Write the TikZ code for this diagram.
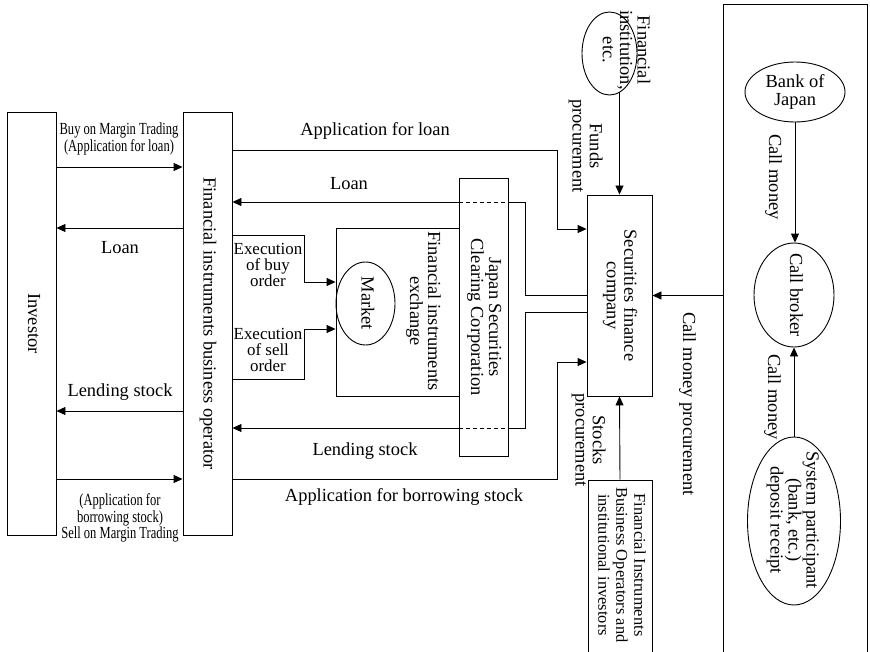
\documentclass[tikz,border=0pt]{standalone}
\usepackage{fontspec}
\setmainfont{Liberation Serif}
\newfontfamily\condfont[FakeStretch=0.74]{Liberation Serif}
\usepackage{graphicx}
\usetikzlibrary{shapes.geometric,arrows.meta}
\newcommand{\rottext}[1]{\rotatebox{-90}{\begin{tabular}{@{}c@{}}#1\end{tabular}}}
\begin{document}
\begin{tikzpicture}[x=1bp, y=-1bp, line width=0.9bp,
  font=\fontsize{18.5}{17.5}\selectfont,
  box/.style={draw, rectangle, inner sep=0pt},
  oval/.style={draw, ellipse, inner sep=0pt, align=center},
  txt/.style={inner sep=0pt, align=center},
  exe/.style={inner sep=0pt, align=center, font=\fontsize{17}{16.5}\selectfont},
  small/.style={inner sep=0pt, align=center, font=\condfont\fontsize{17}{16.5}\selectfont},
  arr/.style={-{Triangle[length=9bp,width=8bp]}},
  dsh/.style={dash pattern=on 4bp off 3bp}]
\useasboundingbox (0,0) rectangle (870,652);
\clip (0,0) rectangle (870,652);

% main boxes
\node[box, minimum width=49bp, minimum height=423bp] (inv) at (31.5,323.5) {\rottext{Investor}};
\node[box, minimum width=49bp, minimum height=423bp] (fibo) at (207.5,323.5) {\rottext{Financial instruments business operator}};
\node[box, minimum width=123bp, minimum height=168bp] (exch) at (397.5,312) {};
\node[oval, minimum width=59bp, minimum height=83bp] (mkt) at (365.5,303.5) {\rottext{Market}};
\node[txt] (exchlbl) at (423,311) {\rottext{Financial instruments\\exchange}};
\node[box, minimum width=65bp, minimum height=201bp] (sfc) at (619.5,295.5) {\rottext{Securities finance\\company}};
\node[oval, minimum width=55bp, minimum height=83bp] (fi) at (609.5,53.5) {};
\node[txt] (filbl) at (624,50) {\rottext{Financial\\institution,\\etc.}};
\node[box, minimum width=64bp, minimum height=220bp] (fibii) at (620,590) {};
\node[txt, font=\fontsize{16.5}{18}\selectfont] (fibiilbl) at (620,565) {\rottext{Financial Instruments\\Business Operators and\\institutional investors}};
\node[box, minimum width=144bp, minimum height=700bp] (bigbox) at (795,354) {};
\node[oval, minimum width=100bp, minimum height=60bp] (boj) at (795,92) {Bank of\\Japan};
\node[oval, minimum width=80bp, minimum height=104bp] (cb) at (794,295) {};
\node[txt] (cblbl) at (794,295) {\rottext{Call broker}};
\node[oval, minimum width=93bp, minimum height=168bp] (sp) at (794,521) {};
\node[txt] (splbl) at (792,520) {\rottext{System participant\\(bank, etc.)\\deposit receipt}};

% investor <-> operator
\draw[arr] (inv.east |- 0,167) -- (fibo.west |- 0,167);
\draw[arr] (fibo.west |- 0,228) -- (inv.east |- 0,228);
\draw[arr] (fibo.west |- 0,411) -- (inv.east |- 0,411);
\draw[arr] (inv.east |- 0,479) -- (fibo.west |- 0,479);
\node[small] (buylbl) at (119,139) {Buy on Margin Trading\\(Application for loan)};
\node[txt] (loan1) at (120,248) {Loan};
\node[txt] (lend1) at (120,392) {Lending stock};
\node[small] (selllbl) at (120,518) {(Application for\\borrowing stock)\\Sell on Margin Trading};

% operator <-> securities finance company
\draw[arr] (fibo.east |- 0,150) -- (557,150) -- (557,229) -- (sfc.west |- 0,229);
\node[txt] (applbl) at (375,131) {Application for loan};
\draw[arr] (sfc.west |- 0,295) -- (525,295) -- (525,202) -- (fibo.east |- 0,202);
\node[txt] (loan2) at (349,184) {Loan};
\draw[arr] (sfc.west |- 0,312) -- (525,312) -- (525,428) -- (fibo.east |- 0,428);
\node[txt] (lend2) at (365,451) {Lending stock};
\draw[arr] (fibo.east |- 0,479) -- (557,479) -- (557,362) -- (sfc.west |- 0,362);
\node[txt] (borlbl) at (404,497) {Application for borrowing stock};

% clearing corporation over the lines
\node[box, fill=white, minimum width=49bp, minimum height=278bp] (jscc) at (483.5,317) {\rottext{Japan Securities\\Clearing Corporation}};
\draw[dsh] (jscc.west |- 0,202) -- (jscc.east |- 0,202);
\draw[dsh] (jscc.west |- 0,428) -- (jscc.east |- 0,428);

% execution orders
\draw[arr] (fibo.east |- 0,235) -- (304,235) -- (304,282) -- (exch.west |- 0,282);
\draw[arr] (fibo.east |- 0,379) -- (304,379) -- (304,329) -- (exch.west |- 0,329);
\node[exe] (buyex) at (268,265) {Execution\\of buy\\order};
\node[exe] (sellex) at (268,350) {Execution\\of sell\\order};

% procurement
\draw[arr] (sfc.north |- fi.-75) -- (sfc.north);
\node[txt] (fundslbl) at (585,146) {\rottext{Funds\\procurement}};
\draw[arr] (fibii.north) -- (sfc.south);
\node[txt] (stocklbl) at (588,440) {\rottext{Stocks\\procurement}};
\draw[arr] (sfc.east -| bigbox.west) -- (sfc.east);
\node[txt] (cmplbl) at (687,404) {\rottext{Call money procurement}};

% call money
\draw[arr] (boj.south) -- (boj.south |- cb.north);
\node[txt] (cm1) at (773,177) {\rottext{Call money}};
\draw[arr] (sp.north) -- (sp.north |- cb.south);
\node[txt] (cm2) at (772,397) {\rottext{Call money}};
\end{tikzpicture}
\end{document}
